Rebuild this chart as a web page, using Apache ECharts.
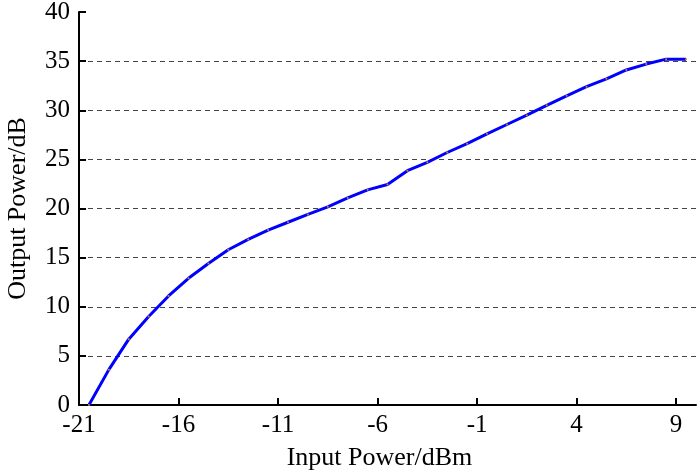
<!DOCTYPE html>
<html>
<head>
<meta charset="utf-8">
<script src="https://cdn.jsdelivr.net/npm/echarts@6/dist/echarts.min.js"></script>
<style>
  html, body { margin: 0; padding: 0; background: #fff; }
  #chart { width: 700px; height: 472px; }
</style>
</head>
<body>
<div id="chart"></div>
<script>
// input power (dBm) and measured output power (dB)
const inputPower = [
  -20.5, -19.5, -18.5, -17.5, -16.5, -15.5, -14.5, -13.5, -12.5, -11.5,
  -10.5, -9.5, -8.5, -7.5, -6.5, -5.5, -4.5, -3.5, -2.5, -1.5,
  -0.5, 0.5, 1.5, 2.5, 3.5, 4.5, 5.5, 6.5, 7.5, 8.5, 9.5
];
const outputPower = [
  0, 3.6, 6.7, 9.0, 11.1, 12.9, 14.4, 15.8, 16.85, 17.8,
  18.6, 19.4, 20.17, 21.08, 21.9, 22.45, 23.85, 24.7, 25.7, 26.6,
  27.6, 28.55, 29.5, 30.5, 31.47, 32.4, 33.2, 34.1, 34.7, 35.2, 35.2
];
const xTicks = [-21, -16, -11, -6, -1, 4, 9];

const font = "'Liberation Serif', 'Times New Roman', serif";
const chart = echarts.init(document.getElementById("chart"));

const option = {
  animation: false,
  grid: {
    left: 79,
    right: 4,
    top: 12,
    bottom: 67,
    containLabel: false,
    outerBoundsMode: "none",
  },
  xAxis: {
    type: "value",
    min: -21,
    max: 10,
    name: "Input Power/dBm",
    nameLocation: "middle",
    nameGap: 40,
    nameTextStyle: { fontFamily: font, fontSize: 26, color: "#000", padding: [0, 16, 0, 0] },
    axisLine: { onZero: false, lineStyle: { color: "#000", width: 2 } },
    axisTick: {
      inside: true,
      length: 7,
      customValues: xTicks,
      lineStyle: { color: "#000", width: 2 },
    },
    axisLabel: {
      customValues: xTicks,
      margin: 8,
      fontFamily: font,
      fontSize: 25,
      color: "#000",
    },
    splitLine: { show: false },
  },
  yAxis: {
    type: "value",
    min: 0,
    max: 40,
    interval: 5,
    name: "Output Power/dB",
    nameLocation: "middle",
    nameGap: 48,
    nameTextStyle: { fontFamily: font, fontSize: 26, color: "#000" },
    axisLine: { show: true, onZero: false, lineStyle: { color: "#000", width: 2 } },
    axisTick: {
      show: true,
      inside: true,
      length: 7,
      lineStyle: { color: "#000", width: 2 },
    },
    axisLabel: {
      margin: 9,
      fontFamily: font,
      fontSize: 25,
      color: "#000",
    },
    splitLine: {
      show: true,
      showMinLine: false,
      showMaxLine: false,
      lineStyle: { color: "#444", width: 1, type: [5, 4] },
    },
  },
  series: [
    {
      type: "line",
      data: inputPower.map((x, i) => [x, outputPower[i]]),
      symbol: "circle",
      symbolSize: 2,
      itemStyle: { color: "#d9822b" },
      lineStyle: { color: "#0000ff", width: 3 },
    },
  ],
};
chart.setOption(option);
</script>
</body>
</html>
